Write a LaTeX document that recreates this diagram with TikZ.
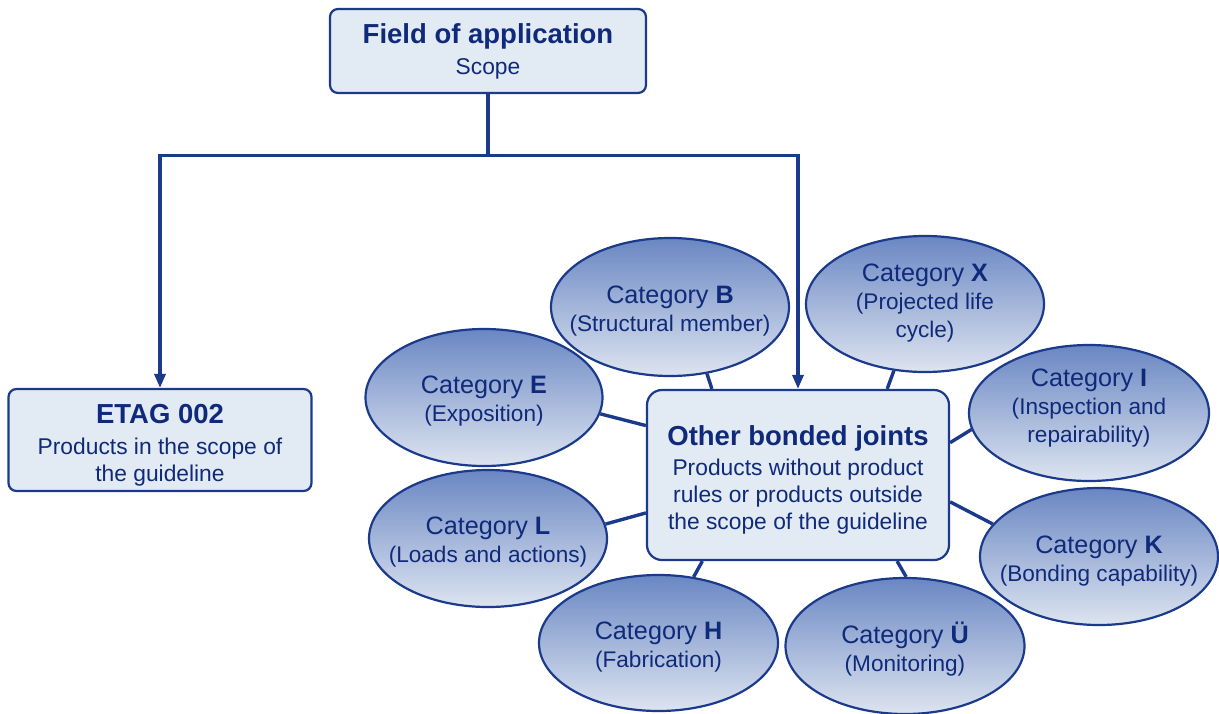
\documentclass[tikz,border=0pt]{standalone}
\usepackage{fontspec}
\setmainfont{Liberation Sans}
\usetikzlibrary{shapes.geometric,arrows.meta}
\definecolor{bdr}{HTML}{1B3A8C}
\definecolor{txt}{HTML}{0F2A7A}
\definecolor{boxfill}{HTML}{E2EAF3}
\definecolor{eltop}{HTML}{6A87C3}
\definecolor{elmid}{HTML}{BAC8E2}
\definecolor{elbot}{HTML}{DDE4F0}
\newcommand{\hdf}{\fontsize{27.5}{27}\selectfont\bfseries}
\newcommand{\subf}{\fontsize{22.6}{28}\selectfont}
\tikzset{
  boxnode/.style={draw=bdr, line width=2.2pt, fill=boxfill, rounded corners=8pt, inner sep=0pt},
  boxtext/.style={inner sep=0pt, align=center, text=txt, font=\fontsize{22.8}{27}\selectfont},
  catell/.style={ellipse, draw=bdr, line width=2.2pt, inner sep=0pt,
    top color=eltop, middle color=elmid, bottom color=elbot,
    minimum width=238pt, minimum height=136pt},
  cattext/.style={align=center, text=txt, inner sep=0pt, font=\fontsize{25.2}{28}\selectfont},
  conn/.style={draw=bdr, line width=3.4pt},
  arr/.style={draw=bdr, line width=3.2pt, -{Triangle[length=14pt,width=11pt]}}
}
\begin{document}
\begin{tikzpicture}[x=1pt,y=-1pt]
\useasboundingbox (0,0) rectangle (1219,713);

% boxes
\node[boxnode, minimum width=316pt, minimum height=84pt] (F) at (488,51) {};
\node[boxtext] (Ft) at (488,51) {{\hdf Field of application}\\[4pt]Scope};
\node[boxnode, minimum width=303pt, minimum height=102pt] (ET) at (160,440) {};
\node[boxtext] (ETt) at (160,445) {{\hdf ETAG 002}\\[4pt]Products in the scope of\\the guideline};
\node[boxnode, rounded corners=15pt, minimum width=302pt, minimum height=170pt] (O) at (798,475) {};
\node[boxtext] (Ot) at (798,479.5) {{\hdf Other bonded joints}\\[3pt]Products without product\\rules or products outside\\the scope of the guideline};

% arrows
\draw[arr] (F.south) -- ++(0,61) -| (ET.north);
\draw[arr] (F.south) -- ++(0,61) -| (O.north);

% ellipses
\node[catell, minimum width=238pt, minimum height=138pt] (B) at (670,307) {};
\node[catell, minimum width=237pt, minimum height=137pt] (E) at (484,397.5) {};
\node[catell, minimum width=238pt, minimum height=136pt] (X) at (925,304) {};
\node[catell, minimum width=240pt, minimum height=136pt] (I) at (1089,413) {};
\node[catell, minimum width=238pt, minimum height=137pt] (L) at (488,538.5) {};
\node[catell, minimum width=238pt, minimum height=137pt] (K) at (1099,556.5) {};
\node[catell, minimum width=239pt, minimum height=136pt] (H) at (658.5,643) {};
\node[catell, minimum width=239pt, minimum height=136pt] (U) at (905,646) {};

% texts of ellipses
\node[cattext] (Bt) at (670,311) {Category \textbf{B}\\{\subf (Structural member)}};
\node[cattext] (Et) at (484,401) {Category \textbf{E}\\{\subf (Exposition)}};
\node[cattext] (Xt) at (925,303) {Category \textbf{X}\\{\subf (Projected life}\\{\subf cycle)}};
\node[cattext] (It) at (1089,408) {Category \textbf{I}\\{\subf (Inspection and}\\{\subf repairability)}};
\node[cattext] (Lt) at (488,542) {Category \textbf{L}\\{\subf (Loads and actions)}};
\node[cattext] (Kt) at (1099,561) {Category \textbf{K}\\{\subf (Bonding capability)}};
\node[cattext] (Ht) at (658.5,647) {Category \textbf{H}\\{\subf (Fabrication)}};
\node[cattext] (Ut) at (905,649) {Category \textbf{Ü}\\{\subf (Monitoring)}};

% connectors
\draw[conn] (B.-61) -- (O.135);
\draw[conn] (X.-115) -- (O.44);
\draw[conn] (E.-8) -- (O.162.6);
\draw[conn] (I.188) -- (O.12.7);
\draw[conn] (K.163) -- (O.-10.5);
\draw[conn] (L.7.5) -- (O.194.6);
\draw[conn] (H.62.7) -- (O.222.1);
\draw[conn] (U.89) -- (O.-41.5);
\end{tikzpicture}
\end{document}
